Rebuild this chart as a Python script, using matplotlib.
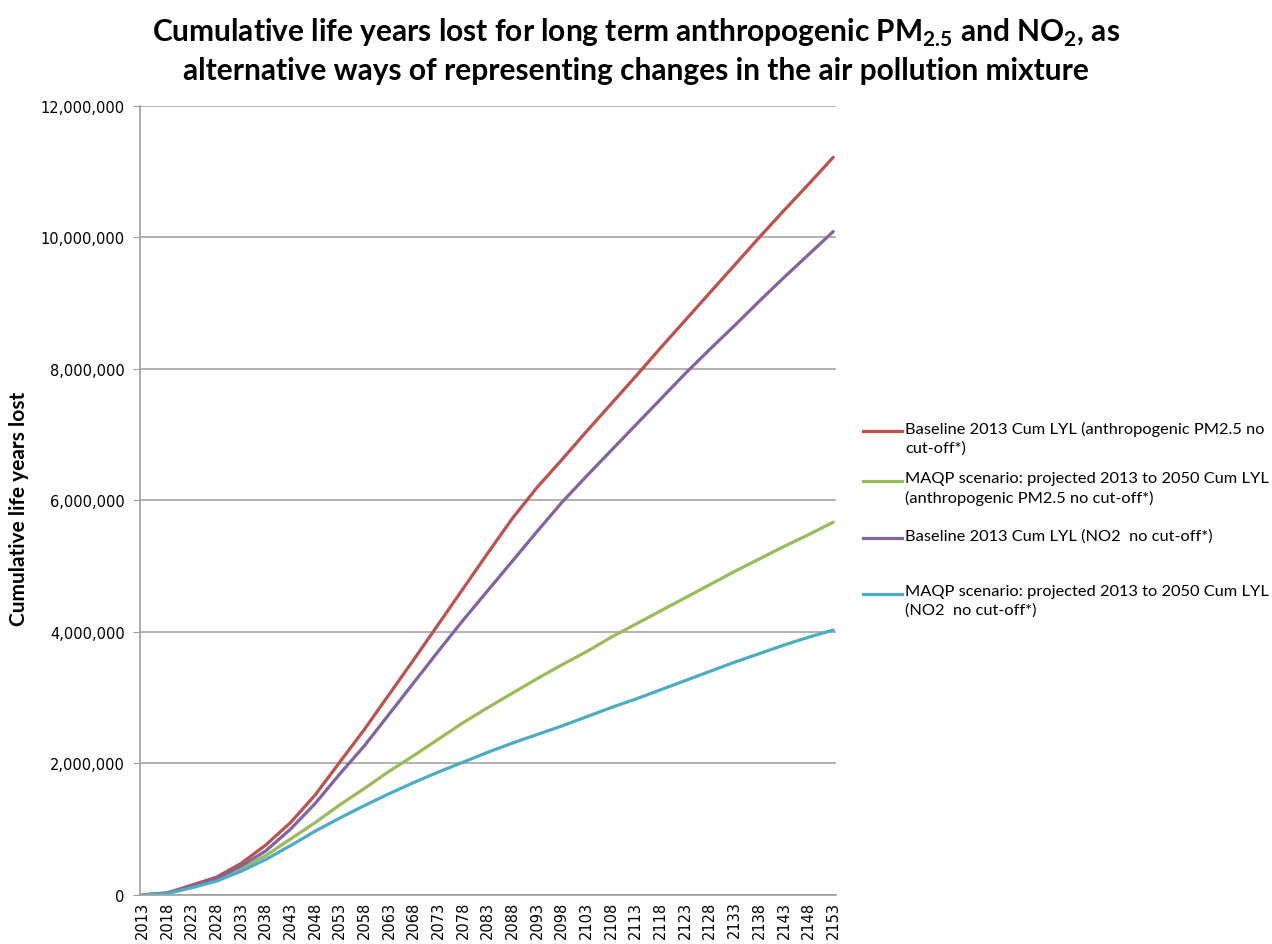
import matplotlib
matplotlib.use("Agg")
import matplotlib.pyplot as plt
from matplotlib.lines import Line2D
from matplotlib.ticker import FuncFormatter

# years plotted (every 5th year)
years = list(range(2013, 2154, 5))

# cumulative life years lost, millions
baseline_pm25 = [0, 0.03, 0.15, 0.27, 0.48, 0.76, 1.10, 1.52, 2.02, 2.52, 3.05, 3.58, 4.12, 4.66, 5.20,
                 5.73, 6.20, 6.62, 7.05, 7.47, 7.89, 8.32, 8.74, 9.16, 9.58, 10.00, 10.41, 10.81, 11.22]
maqp_pm25 = [0, 0.03, 0.12, 0.23, 0.40, 0.60, 0.85, 1.10, 1.37, 1.62, 1.88, 2.12, 2.37, 2.62, 2.85,
             3.07, 3.29, 3.50, 3.70, 3.92, 4.12, 4.32, 4.52, 4.72, 4.92, 5.11, 5.30, 5.48, 5.67]
baseline_no2 = [0, 0.03, 0.13, 0.25, 0.44, 0.67, 1.00, 1.39, 1.84, 2.27, 2.75, 3.23, 3.71, 4.18, 4.63,
                5.08, 5.53, 5.97, 6.37, 6.76, 7.15, 7.54, 7.93, 8.30, 8.66, 9.03, 9.39, 9.74, 10.09]
maqp_no2 = [0, 0.02, 0.11, 0.21, 0.36, 0.54, 0.75, 0.97, 1.17, 1.36, 1.54, 1.71, 1.87, 2.02, 2.17,
            2.31, 2.44, 2.57, 2.71, 2.85, 2.98, 3.12, 3.26, 3.40, 3.54, 3.67, 3.80, 3.92, 4.03]

labels = ["Baseline 2013 Cum LYL (anthropogenic PM2.5 no\ncut-off*)",
          "MAQP scenario: projected 2013 to 2050 Cum LYL\n(anthropogenic PM2.5 no cut-off*)",
          "Baseline 2013 Cum LYL (NO2  no cut-off*)",
          "MAQP scenario: projected 2013 to 2050 Cum LYL\n(NO2  no cut-off*)"]
colors = ["#C0504D", "#9BBB59", "#8064A2", "#4BACC6"]

plt.rcParams['font.family'] = ['Lato', 'DejaVu Sans']
plt.rcParams['mathtext.fontset'] = 'custom'
plt.rcParams['mathtext.rm'] = 'Lato:bold'

fig = plt.figure(figsize=(12.72, 9.45), dpi=100)
ax = fig.add_axes([0.110, 0.0519, 0.547, 0.8349])

series = [baseline_pm25, maqp_pm25, baseline_no2, maqp_no2]
for vals, c in zip(series, colors):
    ax.plot(years, [v * 1e6 for v in vals], color=c, linewidth=2.3, solid_capstyle='round')

ax.set_xlim(2012.5, 2153.5)
ax.set_ylim(0, 12e6)
ax.set_yticks(range(0, 12000001, 2000000))
ax.yaxis.set_major_formatter(FuncFormatter(lambda v, p: "{:,}".format(int(v))))
ax.set_xticks(years)
ax.set_xticklabels([str(y) for y in years], rotation=90, family='DejaVu Sans', fontsize=10.5)
for t in ax.get_yticklabels():
    t.set_family('DejaVu Sans')
    t.set_fontsize(10.5)
ax.tick_params(axis='y', length=5, color='#a0a0a0', pad=6)
ax.tick_params(axis='x', length=0, pad=4)

ax.grid(axis='y', color='#a6a6a6', linewidth=1.2)
ax.set_axisbelow(True)
for s in ['top', 'right']:
    ax.spines[s].set_visible(False)
for s in ['left', 'bottom']:
    ax.spines[s].set_color('#a0a0a0')
    ax.spines[s].set_linewidth(1.2)

ax.set_ylabel("Cumulative life years lost", fontsize=15, fontweight='bold')
ax.yaxis.set_label_coords(-0.16, 0.49)

fig.text(0.5, 0.982, r"Cumulative life years lost for long term anthropogenic PM$_{2.5}$ and NO$_{2}$, as" + "\n"
         "alternative ways of representing changes in the air pollution mixture",
         ha='center', va='top', fontsize=21.5, fontweight='bold', linespacing=1.35)

# legend, Excel style: handle level with first text line
legend_y = [432, 482, 539, 595]
for lab, c, yy in zip(labels, colors, legend_y):
    yf = 1 - yy / 945
    fig.add_artist(Line2D([863 / 1272, 902 / 1272], [yf, yf], color=c, linewidth=2.3,
                          transform=fig.transFigure))
    fig.text(905 / 1272, 1 - (yy - 10) / 945, lab, ha='left', va='top', fontsize=11.8,
             linespacing=1.38, transform=fig.transFigure)

fig.savefig("out.png", dpi=100)
